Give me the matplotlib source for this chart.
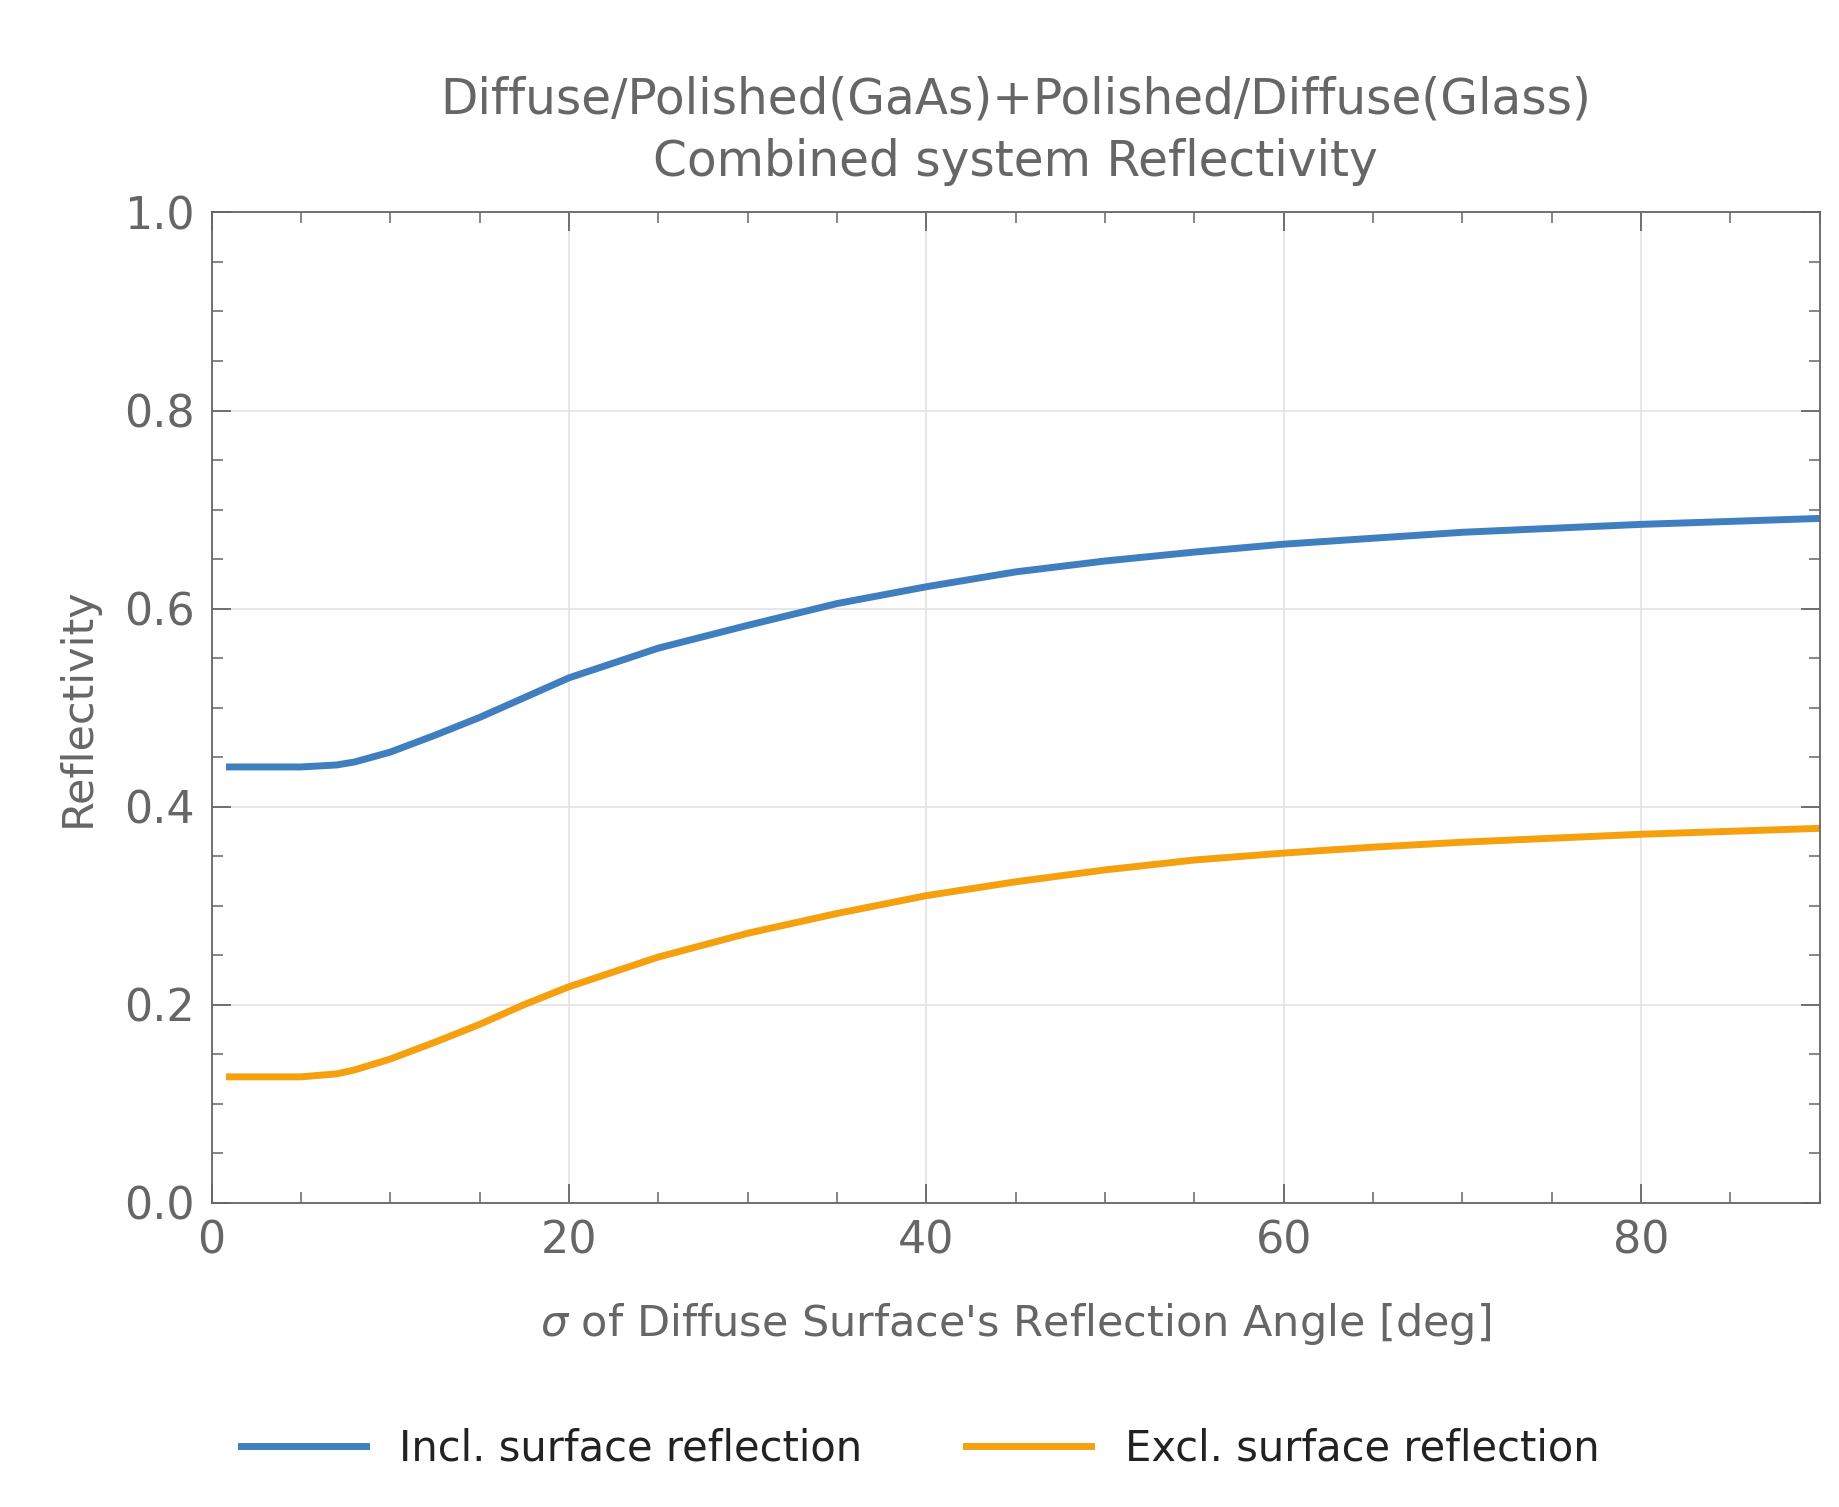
import matplotlib.pyplot as plt
from matplotlib.ticker import MultipleLocator

# values
sigma = [1, 3, 5, 7, 8, 10, 12.5, 15, 17.5, 20, 25, 30, 35, 40, 45, 50, 55, 60, 65, 70, 75, 80, 85, 90]
incl = [0.440, 0.440, 0.440, 0.442, 0.445, 0.455, 0.472, 0.490, 0.510, 0.530, 0.560, 0.583, 0.605, 0.622,
        0.637, 0.648, 0.657, 0.665, 0.671, 0.677, 0.681, 0.685, 0.688, 0.691]
excl = [0.127, 0.127, 0.127, 0.130, 0.134, 0.145, 0.162, 0.180, 0.200, 0.218, 0.248, 0.272, 0.292, 0.310,
        0.324, 0.336, 0.346, 0.353, 0.359, 0.364, 0.368, 0.372, 0.375, 0.378]

grey = "#666666"
plt.rcParams["font.family"] = ["DejaVu Sans"]

fig = plt.figure(figsize=(18.4, 15.07), dpi=100)
ax = fig.add_axes([0.115, 0.202, 0.874, 0.657])

ax.plot(sigma, incl, color="#3f7fbf", lw=5, label="Incl. surface reflection", solid_joinstyle="round")
ax.plot(sigma, excl, color="#f5a10f", lw=5, label="Excl. surface reflection", solid_joinstyle="round")

ax.set_xlim(0, 90)
ax.set_ylim(0, 1.0)
ax.xaxis.set_major_locator(MultipleLocator(20))
ax.xaxis.set_minor_locator(MultipleLocator(5))
ax.yaxis.set_major_locator(MultipleLocator(0.2))
ax.yaxis.set_minor_locator(MultipleLocator(0.05))
ax.yaxis.set_major_formatter(plt.FormatStrFormatter("%.1f"))
ax.grid(True, which="major", color="#e3e3e3", lw=1.2)
ax.tick_params(which="both", direction="in", top=True, right=True, colors=grey,
               labelsize=32, pad=12)
ax.tick_params(which="major", length=14, width=1.3)
ax.tick_params(which="minor", length=8, width=1.1)
for s in ax.spines.values():
    s.set_color(grey)
    s.set_linewidth(1.3)

ax.set_xlabel(r"$\sigma$ of Diffuse Surface's Reflection Angle [deg]", color=grey, fontsize=31, labelpad=28)
ax.set_ylabel("Reflectivity", color=grey, fontsize=31, labelpad=18)
ax.set_title("Diffuse/Polished(GaAs)+Polished/Diffuse(Glass)\nCombined system Reflectivity",
             color=grey, fontsize=35, pad=26, linespacing=1.4)

fig.legend(loc="lower center", bbox_to_anchor=(0.5, 0.0), ncol=2, frameon=False,
           fontsize=30, handlelength=3, columnspacing=2.5, labelcolor="#222222")

fig.savefig("out.png", dpi=100)
